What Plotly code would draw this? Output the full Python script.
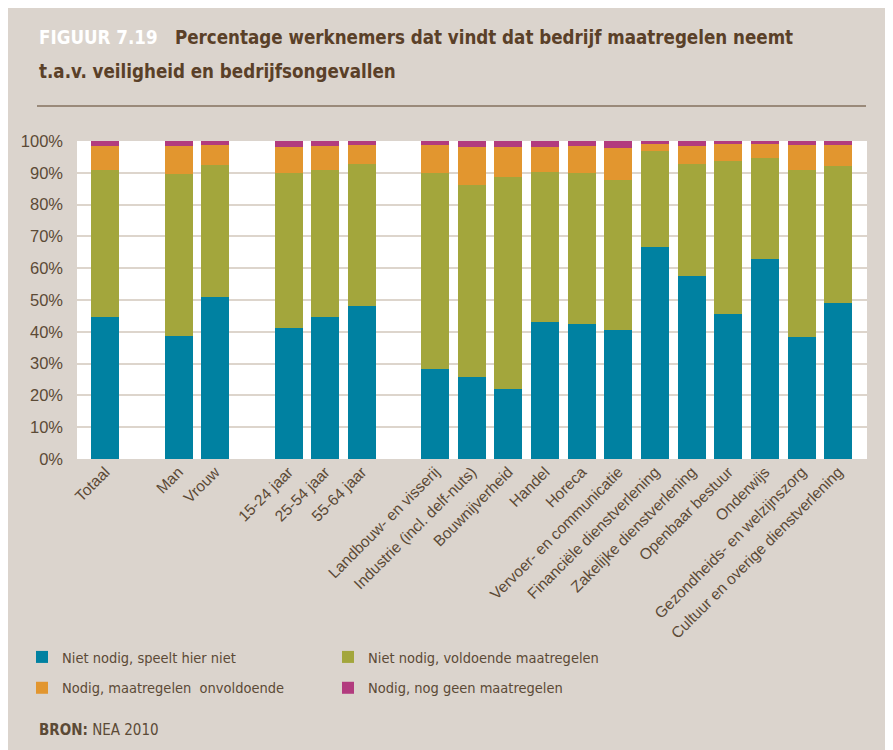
import plotly.graph_objects as go

# ---- data ----
groups = [
    ["Totaal"],
    ["Man", "Vrouw"],
    ["15-24 jaar", "25-54 jaar", "55-64 jaar"],
    ["Landbouw- en visserij", "Industrie (incl. delf-nuts)", "Bouwnijverheid", "Handel",
     "Horeca", "Vervoer- en communicatie", "Financiële dienstverlening",
     "Zakelijke dienstverlening", "Openbaar bestuur", "Onderwijs",
     "Gezondheids- en welzijnszorg", "Cultuur en overige dienstverlening"],
]
niet_nodig_speelt = [44.5, 38.8, 51.0, 41.3, 44.5, 48.2, 28.4, 25.9, 22.1, 43.2, 42.6, 40.7,
                     66.8, 57.4, 45.7, 63.0, 38.5, 49.2]
niet_nodig_voldoende = [46.5, 50.9, 41.6, 48.7, 46.5, 44.7, 61.6, 60.2, 66.7, 47.1, 47.4, 47.1,
                        30.2, 35.5, 48.1, 31.8, 52.5, 43.0]
nodig_onvoldoende = [7.5, 8.8, 6.2, 8.2, 7.5, 5.9, 8.8, 12.1, 9.4, 7.9, 8.5, 10.1,
                     2.2, 5.6, 5.4, 4.4, 7.8, 6.6]
nodig_geen = [1.5, 1.5, 1.2, 1.8, 1.5, 1.2, 1.2, 1.8, 1.8, 1.8, 1.5, 2.1,
              0.8, 1.5, 0.8, 0.8, 1.2, 1.2]
series_names = ["Niet nodig, speelt hier niet", "Niet nodig, voldoende maatregelen",
                "Nodig, maatregelen  onvoldoende", "Nodig, nog geen maatregelen"]
y_ticks = [0, 10, 20, 30, 40, 50, 60, 70, 80, 90, 100]

# ---- styles ----
OFF = 8                      # page body margin
W, H = 893 - OFF, 750 - OFF
ML, MT = 77 - OFF, 141 - OFF
MR = W - (867 - OFF)
MB = H - (459 - OFF)
PW, PH = W - ML - MR, H - MT - MB
BG = "#dbd4cd"
TXT = "#5b4a36"
TITLE = "#5a4028"
COLORS = ["#0081a1", "#a3a63c", "#e2962f", "#b23b7e"]
NARROW = "Liberation Sans Narrow, DejaVu Sans Condensed, Arial Narrow, sans-serif"
SANS = "Liberation Sans, Arial, sans-serif"

def px(xp):  # screen pixel -> paper x
    return (xp - OFF - ML) / PW

def py(yp):  # screen pixel -> paper y
    return (H - MB - (yp - OFF)) / PH

# category positions with one empty slot between groups
labels, pos = [], []
slot = 0
for gi, g in enumerate(groups):
    if gi > 0:
        slot += 1
    for lab in g:
        labels.append(lab)
        pos.append(slot)
        slot += 1

fig = go.Figure()
values = [niet_nodig_speelt, niet_nodig_voldoende, nodig_onvoldoende, nodig_geen]
legend_ids = ["legend", "legend2", "legend", "legend2"]
for i, (name, vals) in enumerate(zip(series_names, values)):
    fig.add_trace(go.Bar(
        x=pos, y=vals, name=name, marker=dict(color=COLORS[i], line=dict(width=0)),
        width=0.764, legend=legend_ids[i], legendgroup=f"g{i}",
        hovertemplate="%{y}%<extra>" + name + "</extra>",
    ))

fig.update_layout(
    width=W, height=H, barmode="stack",
    paper_bgcolor=BG, plot_bgcolor="white",
    margin=dict(l=ML, r=MR, t=MT, b=MB, autoexpand=False),
    showlegend=True,
    legend=dict(x=px(22), y=py(641), xanchor="left", yanchor="top",
                font=dict(family=NARROW, size=14.5, color=TXT), bgcolor="rgba(0,0,0,0)",
                traceorder="grouped", tracegroupgap=9),
    legend2=dict(x=px(328), y=py(641), xanchor="left", yanchor="top",
                 font=dict(family=NARROW, size=14.5, color=TXT), bgcolor="rgba(0,0,0,0)",
                 traceorder="grouped", tracegroupgap=9),
    xaxis=dict(range=[-0.77, slot - 1 + 0.78], tickvals=pos, ticktext=labels,
               tickangle=-45, tickfont=dict(family=SANS, size=15.5, color=TXT),
               showgrid=False, zeroline=False, showline=False, ticks=""),
    yaxis=dict(range=[0, 100], tickvals=y_ticks, ticktext=[f"{v}%" for v in y_ticks],
               tickfont=dict(family=SANS, size=16.5, color=TXT), showgrid=True,
               gridcolor="#ddd5cc", gridwidth=2, zeroline=False, showline=False,
               ticks="", ticklabelstandoff=13),
    font=dict(family=SANS, color=TXT),
)

fig.add_annotation(
    xref="paper", yref="paper", x=px(37), y=py(38), xanchor="left", yanchor="middle",
    showarrow=False, align="left",
    text="<b><span style='color:white'>FIGUUR 7.19</span>&nbsp;&nbsp;&nbsp;Percentage werknemers dat vindt dat bedrijf maatregelen neemt</b>",
    font=dict(family=NARROW, size=18.6, color=TITLE),
)
fig.add_annotation(
    xref="paper", yref="paper", x=px(37), y=py(72), xanchor="left", yanchor="middle",
    showarrow=False, align="left",
    text="<b>t.a.v. veiligheid en bedrijfsongevallen</b>",
    font=dict(family=NARROW, size=18.6, color=TITLE),
)
fig.add_annotation(
    xref="paper", yref="paper", x=px(37), y=py(730), xanchor="left", yanchor="middle",
    showarrow=False, align="left",
    text="<b>BRON:</b> NEA 2010",
    font=dict(family=NARROW, size=15, color=TXT),
)
fig.add_shape(type="line", xref="paper", yref="paper", x0=px(37), x1=px(866),
              y0=py(106), y1=py(106), line=dict(color=TITLE, width=1.2))

fig.write_html("out.html")
